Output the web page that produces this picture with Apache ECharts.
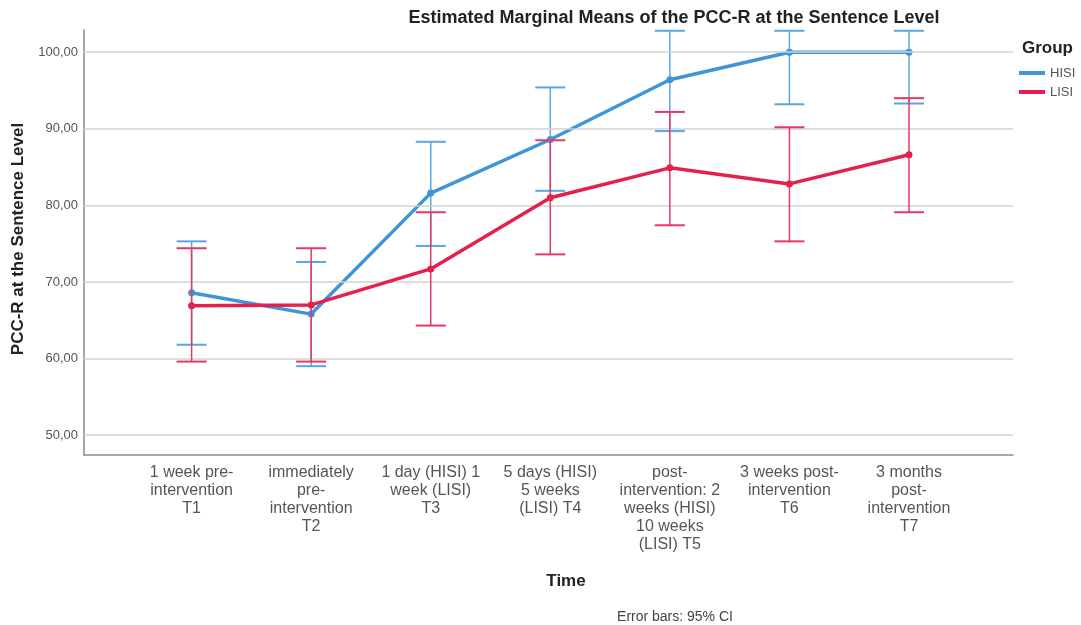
<!DOCTYPE html>
<html>
<head>
<meta charset="utf-8">
<script src="https://cdn.jsdelivr.net/npm/echarts@6/dist/echarts.min.js"></script>
<style>
html,body{margin:0;padding:0;background:#fff;}
#c{width:1081px;height:625px;}
</style>
</head>
<body>
<div id="c"></div>
<script>
const categories = [
  '1 week pre-\nintervention\nT1',
  'immediately\npre-\nintervention\nT2',
  '1 day (HISI) 1\nweek (LISI)\nT3',
  '5 days (HISI)\n5 weeks\n(LISI) T4',
  'post-\nintervention: 2\nweeks (HISI)\n10 weeks\n(LISI) T5',
  '3 weeks post-\nintervention\nT6',
  '3 months\npost-\nintervention\nT7'
];
const hisiMean = [68.6, 65.8, 81.6, 88.6, 96.4, 100.0, 100.0];
const hisiLow  = [61.8, 59.0, 74.7, 81.9, 89.7, 93.2, 93.3];
const hisiHigh = [75.3, 72.6, 88.3, 95.4, 102.8, 102.8, 102.8];
const lisiMean = [66.9, 67.0, 71.7, 81.0, 84.9, 82.8, 86.6];
const lisiLow  = [59.6, 59.6, 64.3, 73.6, 77.4, 75.3, 79.1];
const lisiHigh = [74.4, 74.4, 79.1, 88.5, 92.2, 90.2, 94.0];
const yTicks = [50, 60, 70, 80, 90, 100];

const BLUE = '#3f95d7';
const RED = '#e4214c';
const BLUE_EB = '#5aa6df';
const RED_EB = '#e23a62';
const FONT = '"Liberation Sans", Arial, sans-serif';

const pts = (arr) => arr.map((v, i) => [i + 1, v]);
const ebs = (lo, hi) => lo.map((v, i) => [i + 1, v, hi[i]]);

function makeErr(color) {
  return function (params, api) {
    const x = api.value(0), lo = api.value(1), hi = api.value(2);
    const t = api.coord([x, hi]);
    const b = api.coord([x, lo]);
    const w = 15;
    const st = { stroke: color, lineWidth: 1.5 };
    return {
      type: 'group',
      children: [
        { type: 'line', shape: { x1: t[0], y1: t[1], x2: b[0], y2: b[1] }, style: st },
        { type: 'line', shape: { x1: t[0] - w, y1: t[1], x2: t[0] + w, y2: t[1] }, style: { stroke: color, lineWidth: 2 } },
        { type: 'line', shape: { x1: b[0] - w, y1: b[1], x2: b[0] + w, y2: b[1] }, style: { stroke: color, lineWidth: 2 } }
      ]
    };
  };
}

const chart = echarts.init(document.getElementById('c'), null, { renderer: 'canvas' });
chart.setOption({
  animation: false,
  backgroundColor: '#fff',
  grid: { left: 84, right: 68, top: 30, bottom: 170 },
  xAxis: {
    type: 'value',
    min: 0.1,
    max: 7.87,
    interval: 0.1,
    splitLine: { show: false },
    axisTick: { show: false },
    axisLine: { show: true, lineStyle: { color: '#8a8a8a', width: 1.5 } },
    axisLabel: {
      show: true,
      showMinLabel: true,
      showMaxLabel: true,
      hideOverlap: false,
      margin: 9,
      color: '#555',
      fontFamily: FONT,
      fontSize: 16,
      lineHeight: 18,
      align: 'center',
      formatter: function (v) {
        const r = Math.round(v);
        if (Math.abs(v - r) < 1e-6 && r >= 1 && r <= categories.length) return categories[r - 1];
        return '';
      }
    }
  },
  yAxis: {
    type: 'value',
    min: 47.4,
    max: 102.9,
    splitNumber: 6,
    splitLine: { show: false },
    axisTick: { show: false },
    axisLine: { show: true, lineStyle: { color: '#8a8a8a', width: 1.5 } },
    axisLabel: {
      showMinLabel: false,
      showMaxLabel: false,
      color: '#555',
      fontFamily: FONT,
      fontSize: 13,
      margin: 6,
      formatter: function (v) { return v.toFixed(2).replace('.', ','); }
    }
  },
  legend: {
    orient: 'vertical',
    left: 1019,
    top: 66,
    padding: 0,
    itemWidth: 26,
    itemHeight: 4,
    itemGap: 5,
    icon: 'rect',
    textStyle: { color: '#555', fontFamily: FONT, fontSize: 13, lineHeight: 14 },
    data: ['HISI', 'LISI']
  },
  graphic: [
    { type: 'text', x: 674, y: 18, style: { text: 'Estimated Marginal Means of the PCC-R at the Sentence Level', font: 'bold 18px ' + FONT, fill: '#222', align: 'center', verticalAlign: 'middle' } },
    { type: 'text', x: 1022, y: 48, style: { text: 'Group', font: 'bold 17px ' + FONT, fill: '#222', align: 'left', verticalAlign: 'middle' } },
    { type: 'text', x: 18, y: 239, rotation: Math.PI / 2, style: { text: 'PCC-R at the Sentence Level', font: 'bold 17px ' + FONT, fill: '#222', align: 'center', verticalAlign: 'middle' } },
    { type: 'text', x: 566, y: 581, style: { text: 'Time', font: 'bold 17px ' + FONT, fill: '#222', align: 'center', verticalAlign: 'middle' } },
    { type: 'text', x: 675, y: 617, style: { text: 'Error bars: 95% CI', font: '14px ' + FONT, fill: '#444', align: 'center', verticalAlign: 'middle' } }
  ],
  series: [
    {
      name: 'grid', type: 'line', data: [], silent: true,
      markLine: {
        silent: true, symbol: 'none', animation: false,
        label: { show: false },
        lineStyle: { color: '#d2d2d2', width: 1.5, type: 'solid' },
        data: yTicks.map(v => ({ yAxis: v }))
      }
    },
    { name: 'HISI err', type: 'custom', renderItem: makeErr(BLUE_EB), data: ebs(hisiLow, hisiHigh), silent: true, z: 3 },
    { name: 'HISI', type: 'line', data: pts(hisiMean), color: BLUE, lineStyle: { width: 3.5, color: BLUE }, symbol: 'circle', symbolSize: 7, itemStyle: { color: BLUE }, z: 4 },
    { name: 'LISI err', type: 'custom', renderItem: makeErr(RED_EB), data: ebs(lisiLow, lisiHigh), silent: true, z: 5 },
    { name: 'LISI', type: 'line', data: pts(lisiMean), color: RED, lineStyle: { width: 3.5, color: RED }, symbol: 'circle', symbolSize: 7, itemStyle: { color: RED }, z: 6 }
  ]
});
</script>
</body>
</html>
